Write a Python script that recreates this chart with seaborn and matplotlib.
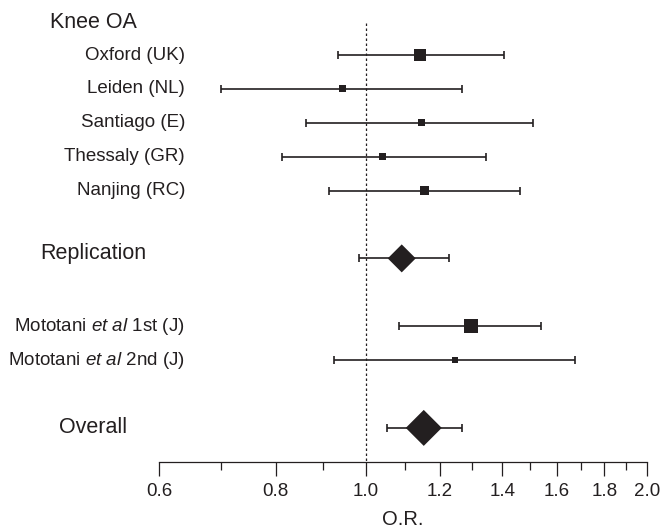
import numpy as np
import pandas as pd
import matplotlib.pyplot as plt
import matplotlib.transforms as mtransforms
from matplotlib.ticker import FixedLocator, NullFormatter
import seaborn as sns

# forest plot data (odds ratio with 95% CI)
labels = ['Oxford (UK)', 'Leiden (NL)', 'Santiago (E)', 'Thessaly (GR)', 'Nanjing (RC)',
          'Replication', r'Mototani $\mathit{et\ al}$ 1st (J)', r'Mototani $\mathit{et\ al}$ 2nd (J)',
          'Overall']
odds = [1.142, 0.944, 1.146, 1.041, 1.155, 1.092, 1.295, 1.245, 1.153]
lower = [0.933, 0.700, 0.863, 0.812, 0.913, 0.983, 1.085, 0.923, 1.054]
upper = [1.405, 1.267, 1.509, 1.345, 1.462, 1.227, 1.540, 1.675, 1.267]
kind = ['study', 'study', 'study', 'study', 'study', 'pooled', 'study', 'study', 'pooled']
ticks = [0.6, 0.8, 1.0, 1.2, 1.4, 1.6, 1.8, 2.0]
minor_ticks = [0.7, 0.9, 1.1, 1.3, 1.5, 1.7, 1.9]

# layout / style
rows = [0, 1, 2, 3, 4, 6, 8, 9, 11]
marker_px = [12, 7, 7, 7, 9, 28, 14, 5.5, 36]   # square side / diamond width in px
ink = '#231f20'

df = pd.DataFrame({'label': labels, 'odds': odds, 'lower': lower, 'upper': upper,
                   'kind': kind, 'row': rows, 'px': marker_px})
# points^2 for scatter (1px = 0.72pt at 100 dpi); diamonds are rotated squares
df['s'] = np.where(df.kind == 'study', (df.px * 0.72) ** 2, (df.px * 0.72 / np.sqrt(2)) ** 2)

sns.set_theme(style='white')
plt.rcParams['font.family'] = ['Liberation Sans', 'DejaVu Sans']
plt.rcParams['mathtext.fontset'] = 'custom'
plt.rcParams['mathtext.rm'] = 'Liberation Sans'
plt.rcParams['mathtext.it'] = 'Liberation Sans:italic'

fig = plt.figure(figsize=(6.67, 5.28), dpi=100)
ax = fig.add_axes([159 / 667, 66 / 528, 488 / 667, 452 / 528])

# row -> pixel: y = 55 + 33.9 * row
top_row = (10 - 55) / 33.9
bottom_row = (462 - 55) / 33.9

ax.vlines(1.0, (23 - 55) / 33.9, bottom_row, colors=ink, linestyles=(0, (2, 2)), linewidth=0.9)

ax.errorbar(df.odds, df.row, xerr=[df.odds - df.lower, df.upper - df.odds], fmt='none',
            ecolor=ink, elinewidth=1.2, capsize=2.9, capthick=1.2, zorder=2)

st = df[df.kind == 'study']
po = df[df.kind == 'pooled']
sns.scatterplot(x=st.odds, y=st.row, marker='s', s=st.s.values, color=ink, linewidth=0, ax=ax, zorder=3)
sns.scatterplot(x=po.odds, y=po.row, marker='D', s=po.s.values, color=ink, linewidth=0, ax=ax, zorder=3)

ax.set_xscale('log')
ax.set_xlim(0.6, 2.0)
ax.set_ylim(bottom_row, top_row)
ax.xaxis.set_major_locator(FixedLocator(ticks))
ax.xaxis.set_minor_locator(FixedLocator(minor_ticks))
ax.xaxis.set_minor_formatter(NullFormatter())
ax.set_xticklabels([f'{t:.1f}' for t in ticks], fontsize=13.5, color=ink)
ax.tick_params(axis='x', which='major', direction='out', length=10, width=0.9, color=ink, pad=5, bottom=True)
ax.tick_params(axis='x', which='minor', direction='out', length=5.8, width=0.9, color=ink, bottom=True)
ax.set_yticks([])
for side in ['top', 'left', 'right']:
    ax.spines[side].set_visible(False)
ax.spines['bottom'].set_color(ink)
ax.spines['bottom'].set_linewidth(0.9)
ax.set_xlabel('O.R.', fontsize=14.5, color=ink, labelpad=7)
ax.set_ylabel('')

trans = mtransforms.blended_transform_factory(fig.transFigure, ax.transData)
for _, r in df.iterrows():
    if r.kind == 'study':
        ax.text(185 / 667, r.row, r.label, transform=trans, ha='right', va='center',
                fontsize=13.5, color=ink)
headers = [('Knee OA', (22 - 55) / 33.9), ('Replication', (253 - 55) / 33.9), ('Overall', 11)]
for txt, yy in headers:
    ax.text(93 / 667, yy, txt, transform=trans, ha='center', va='center', fontsize=15.5, color=ink)

fig.savefig('out.png', dpi=100)
